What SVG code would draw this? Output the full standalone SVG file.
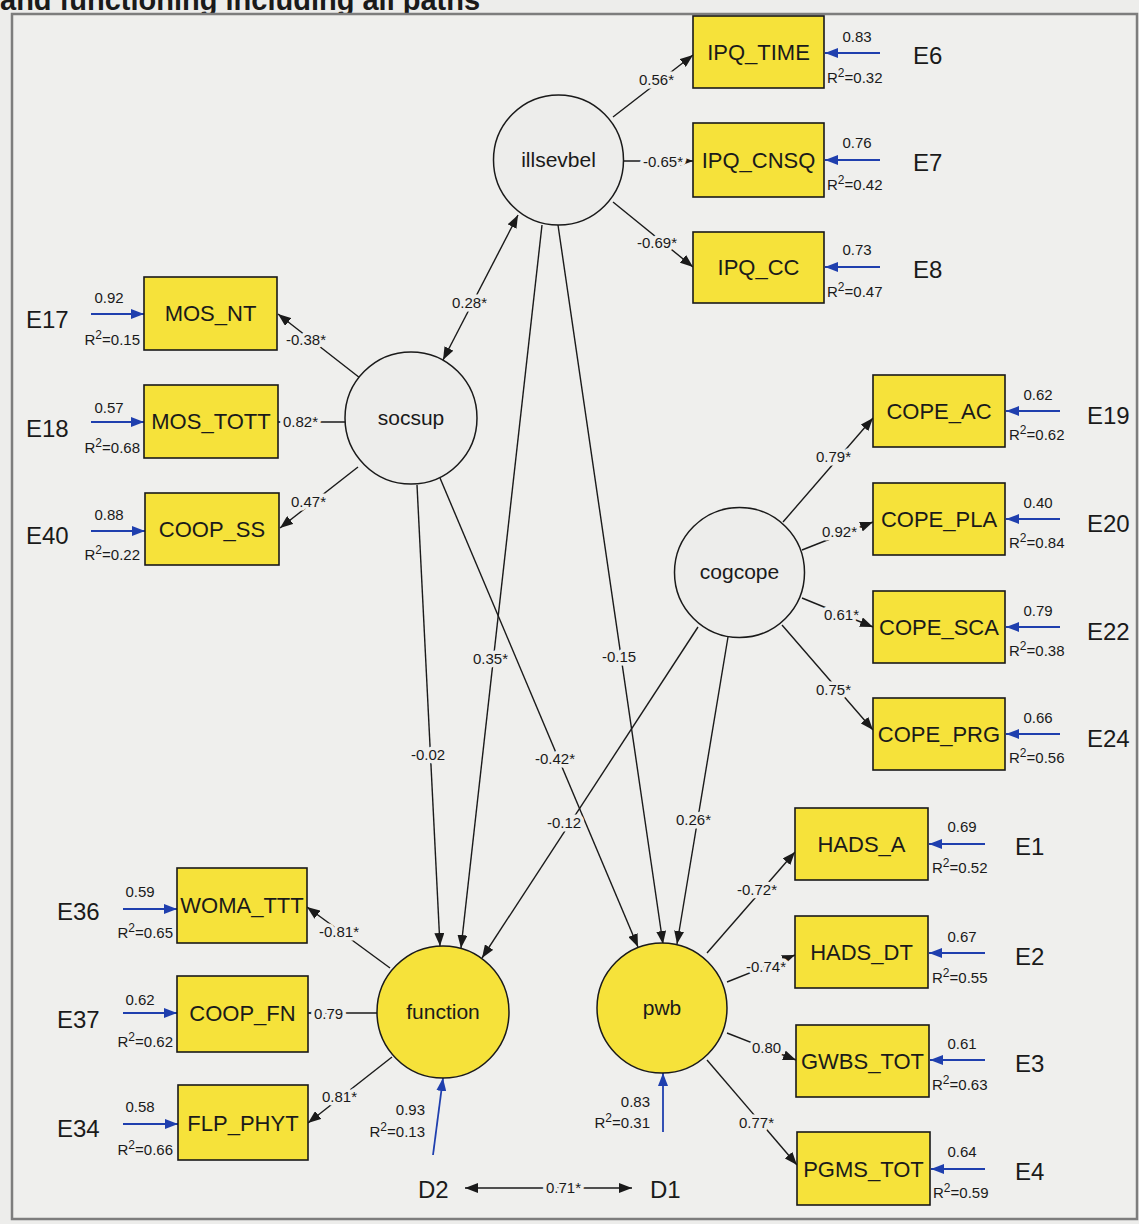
<svg xmlns="http://www.w3.org/2000/svg" width="1139" height="1224" viewBox="0 0 1139 1224">
  <defs>
    <marker id="ah" markerUnits="userSpaceOnUse" markerWidth="14" markerHeight="10" refX="13" refY="5" orient="auto-start-reverse">
      <path d="M0,0 L13,5 L0,10 z" fill="#1a1a1a"/>
    </marker>
    <marker id="ahb" markerUnits="userSpaceOnUse" markerWidth="14" markerHeight="10" refX="13" refY="5" orient="auto">
      <path d="M0,0 L13,5 L0,10 z" fill="#1f3fae"/>
    </marker>
    <style>
      text { font-family: "Liberation Sans", Arial, sans-serif; fill: #1a1a1a; }
      .title { font-size: 29px; font-weight: bold; }
      .box { fill: #f6e23a; stroke: #1a1a1a; stroke-width: 1.6; }
      .lat { fill: #ededeb; stroke: #1a1a1a; stroke-width: 1.5; }
      .latY { fill: #f6e23a; stroke: #1a1a1a; stroke-width: 1.5; }
      .bl { font-size: 22px; text-anchor: middle; }
      .cl { font-size: 21px; text-anchor: middle; }
      .el { font-size: 24px; }
      .path { stroke: #1a1a1a; stroke-width: 1.4; fill: none; marker-end: url(#ah); }
      .dbl { marker-start: url(#ah); }
      .err { stroke: #1f3fae; stroke-width: 1.8; fill: none; marker-end: url(#ahb); }
      .pl { font-size: 15px; stroke: #efefed; stroke-width: 7px; paint-order: stroke; stroke-linejoin: round; }
      .ev { font-size: 15px; text-anchor: middle; }
      .r2 { font-size: 15px; }
      .end { text-anchor: end; }
    </style>
  </defs>

  <!-- page background and frame -->
  <rect x="0" y="0" width="1139" height="1224" fill="#ededeb"/>
  <text class="title" x="0" y="10">and functioning including all paths</text>
  <rect x="12" y="14" width="1125" height="1205" fill="#efefed" stroke="#7d7d7d" stroke-width="2.5"/>

  <!-- structural and measurement paths -->
  <g id="connectors">
    <line class="path" x1="613" y1="117" x2="693" y2="55"/>
    <line class="path" x1="624" y1="161" x2="693" y2="161"/>
    <line class="path" x1="613" y1="202" x2="693" y2="267"/>
    <line class="path dbl" x1="518" y1="215" x2="443" y2="360"/>
    <line class="path" x1="360" y1="378" x2="278" y2="314"/>
    <line class="path" x1="345" y1="422" x2="278" y2="422"/>
    <line class="path" x1="358" y1="467" x2="280" y2="528"/>
    <line class="path" x1="417" y1="485" x2="440" y2="946"/>
    <line class="path" x1="440" y1="478" x2="638" y2="947"/>
    <line class="path" x1="542" y1="225" x2="461" y2="948"/>
    <line class="path" x1="558" y1="225" x2="663" y2="944"/>
    <line class="path" x1="698" y1="627" x2="482" y2="958"/>
    <line class="path" x1="728" y1="637" x2="677" y2="944"/>
    <line class="path" x1="783" y1="522" x2="873" y2="418"/>
    <line class="path" x1="802" y1="550" x2="873" y2="522"/>
    <line class="path" x1="802" y1="598" x2="873" y2="627"/>
    <line class="path" x1="782" y1="625" x2="873" y2="730"/>
    <line class="path" x1="390" y1="968" x2="307" y2="907"/>
    <line class="path" x1="377" y1="1013" x2="308" y2="1013"/>
    <line class="path" x1="392" y1="1057" x2="308" y2="1123"/>
    <line class="path" x1="707" y1="953" x2="795" y2="852"/>
    <line class="path" x1="727" y1="982" x2="795" y2="955"/>
    <line class="path" x1="727" y1="1033" x2="796" y2="1060"/>
    <line class="path" x1="707" y1="1060" x2="797" y2="1165"/>
    <line class="path dbl" x1="465" y1="1188" x2="632" y2="1188"/>

    <!-- disturbance terms -->
    <line class="err" x1="433" y1="1155" x2="443" y2="1078"/>
    <line class="err" x1="663" y1="1132" x2="663" y2="1073"/>

    <!-- measurement error terms -->
    <line class="err" x1="880" y1="53" x2="825" y2="53"/>
    <line class="err" x1="880" y1="160" x2="825" y2="160"/>
    <line class="err" x1="880" y1="267" x2="825" y2="267"/>
    <line class="err" x1="91" y1="314" x2="144" y2="314"/>
    <line class="err" x1="91" y1="422" x2="144" y2="422"/>
    <line class="err" x1="91" y1="531" x2="145" y2="531"/>
    <line class="err" x1="1060" y1="411" x2="1006" y2="411"/>
    <line class="err" x1="1060" y1="519" x2="1006" y2="519"/>
    <line class="err" x1="1060" y1="627" x2="1006" y2="627"/>
    <line class="err" x1="1060" y1="734" x2="1006" y2="734"/>
    <line class="err" x1="123" y1="909" x2="177" y2="909"/>
    <line class="err" x1="123" y1="1013" x2="177" y2="1013"/>
    <line class="err" x1="123" y1="1124" x2="178" y2="1124"/>
    <line class="err" x1="985" y1="844" x2="929" y2="844"/>
    <line class="err" x1="985" y1="953" x2="929" y2="953"/>
    <line class="err" x1="985" y1="1060" x2="930" y2="1060"/>
    <line class="err" x1="985" y1="1169" x2="931" y2="1169"/>

    <!-- path coefficients -->
    <text class="pl" x="639" y="85">0.56*</text>
    <text class="pl" x="643" y="167">-0.65*</text>
    <text class="pl" x="637" y="248">-0.69*</text>
    <text class="pl" x="452" y="308">0.28*</text>
    <text class="pl" x="286" y="345">-0.38*</text>
    <text class="pl" x="283" y="427">0.82*</text>
    <text class="pl" x="291" y="507">0.47*</text>
    <text class="pl" x="411" y="760">-0.02</text>
    <text class="pl" x="535" y="764">-0.42*</text>
    <text class="pl" x="473" y="664">0.35*</text>
    <text class="pl" x="602" y="662">-0.15</text>
    <text class="pl" x="547" y="828">-0.12</text>
    <text class="pl" x="676" y="825">0.26*</text>
    <text class="pl" x="816" y="462">0.79*</text>
    <text class="pl" x="822" y="537">0.92*</text>
    <text class="pl" x="824" y="620">0.61*</text>
    <text class="pl" x="816" y="695">0.75*</text>
    <text class="pl" x="319" y="937">-0.81*</text>
    <text class="pl" x="314" y="1019">0.79</text>
    <text class="pl" x="322" y="1102">0.81*</text>
    <text class="pl" x="737" y="895">-0.72*</text>
    <text class="pl" x="746" y="972">-0.74*</text>
    <text class="pl" x="752" y="1053">0.80</text>
    <text class="pl" x="739" y="1128">0.77*</text>
    <text class="pl" x="546" y="1193">0.71*</text>
  </g>

  <!-- latent variables -->
  <g id="illsevbel">
    <circle class="lat" cx="558.5" cy="160" r="65"/>
    <text class="cl" x="558.5" y="167">illsevbel</text>
  </g>
  <g id="socsup">
    <circle class="lat" cx="411" cy="418" r="66"/>
    <text class="cl" x="411" y="425">socsup</text>
  </g>
  <g id="cogcope">
    <circle class="lat" cx="739.5" cy="572.5" r="65"/>
    <text class="cl" x="739.5" y="579">cogcope</text>
  </g>
  <g id="function">
    <circle class="latY" cx="443" cy="1012" r="66"/>
    <text class="cl" x="443" y="1019">function</text>
  </g>
  <g id="pwb">
    <circle class="latY" cx="662" cy="1008" r="65"/>
    <text class="cl" x="662" y="1015">pwb</text>
  </g>

  <!-- observed variables: illness beliefs -->
  <g id="IPQ_TIME">
    <rect class="box" x="693" y="16" width="131" height="72"/>
    <text class="bl" x="758.5" y="60">IPQ_TIME</text>
    <text class="ev" x="857" y="42">0.83</text>
    <text class="r2" x="827" y="83">R<tspan dy="-6" font-size="12">2</tspan><tspan dy="6">=0.32</tspan></text>
  </g>
  <g id="IPQ_CNSQ">
    <rect class="box" x="693" y="123" width="131" height="74"/>
    <text class="bl" x="758.5" y="168">IPQ_CNSQ</text>
    <text class="ev" x="857" y="148">0.76</text>
    <text class="r2" x="827" y="190">R<tspan dy="-6" font-size="12">2</tspan><tspan dy="6">=0.42</tspan></text>
  </g>
  <g id="IPQ_CC">
    <rect class="box" x="693" y="232" width="131" height="71"/>
    <text class="bl" x="758.5" y="275">IPQ_CC</text>
    <text class="ev" x="857" y="255">0.73</text>
    <text class="r2" x="827" y="297">R<tspan dy="-6" font-size="12">2</tspan><tspan dy="6">=0.47</tspan></text>
  </g>

  <!-- observed variables: social support -->
  <g id="MOS_NT">
    <rect class="box" x="144" y="277" width="133" height="73"/>
    <text class="bl" x="210.5" y="321">MOS_NT</text>
    <text class="ev" x="109" y="303">0.92</text>
    <text class="r2 end" x="140" y="345">R<tspan dy="-6" font-size="12">2</tspan><tspan dy="6">=0.15</tspan></text>
  </g>
  <g id="MOS_TOTT">
    <rect class="box" x="144" y="385" width="134" height="73"/>
    <text class="bl" x="211" y="429">MOS_TOTT</text>
    <text class="ev" x="109" y="413">0.57</text>
    <text class="r2 end" x="140" y="453">R<tspan dy="-6" font-size="12">2</tspan><tspan dy="6">=0.68</tspan></text>
  </g>
  <g id="COOP_SS">
    <rect class="box" x="145" y="493" width="134" height="72"/>
    <text class="bl" x="212" y="537">COOP_SS</text>
    <text class="ev" x="109" y="520">0.88</text>
    <text class="r2 end" x="140" y="560">R<tspan dy="-6" font-size="12">2</tspan><tspan dy="6">=0.22</tspan></text>
  </g>

  <!-- observed variables: coping -->
  <g id="COPE_AC">
    <rect class="box" x="873" y="375" width="132" height="72"/>
    <text class="bl" x="939" y="419">COPE_AC</text>
    <text class="ev" x="1038" y="400">0.62</text>
    <text class="r2" x="1009" y="440">R<tspan dy="-6" font-size="12">2</tspan><tspan dy="6">=0.62</tspan></text>
  </g>
  <g id="COPE_PLA">
    <rect class="box" x="873" y="483" width="132" height="72"/>
    <text class="bl" x="939" y="527">COPE_PLA</text>
    <text class="ev" x="1038" y="508">0.40</text>
    <text class="r2" x="1009" y="548">R<tspan dy="-6" font-size="12">2</tspan><tspan dy="6">=0.84</tspan></text>
  </g>
  <g id="COPE_SCA">
    <rect class="box" x="873" y="591" width="132" height="72"/>
    <text class="bl" x="939" y="635">COPE_SCA</text>
    <text class="ev" x="1038" y="616">0.79</text>
    <text class="r2" x="1009" y="656">R<tspan dy="-6" font-size="12">2</tspan><tspan dy="6">=0.38</tspan></text>
  </g>
  <g id="COPE_PRG">
    <rect class="box" x="873" y="698" width="132" height="72"/>
    <text class="bl" x="939" y="742">COPE_PRG</text>
    <text class="ev" x="1038" y="723">0.66</text>
    <text class="r2" x="1009" y="763">R<tspan dy="-6" font-size="12">2</tspan><tspan dy="6">=0.56</tspan></text>
  </g>

  <!-- observed variables: functioning -->
  <g id="WOMA_TTT">
    <rect class="box" x="177" y="868" width="130" height="75"/>
    <text class="bl" x="242" y="913">WOMA_TTT</text>
    <text class="ev" x="140" y="897">0.59</text>
    <text class="r2 end" x="173" y="938">R<tspan dy="-6" font-size="12">2</tspan><tspan dy="6">=0.65</tspan></text>
  </g>
  <g id="COOP_FN">
    <rect class="box" x="177" y="976" width="131" height="76"/>
    <text class="bl" x="242.5" y="1021">COOP_FN</text>
    <text class="ev" x="140" y="1005">0.62</text>
    <text class="r2 end" x="173" y="1047">R<tspan dy="-6" font-size="12">2</tspan><tspan dy="6">=0.62</tspan></text>
  </g>
  <g id="FLP_PHYT">
    <rect class="box" x="178" y="1085" width="130" height="75"/>
    <text class="bl" x="243" y="1131">FLP_PHYT</text>
    <text class="ev" x="140" y="1112">0.58</text>
    <text class="r2 end" x="173" y="1155">R<tspan dy="-6" font-size="12">2</tspan><tspan dy="6">=0.66</tspan></text>
  </g>

  <!-- observed variables: psychological well-being -->
  <g id="HADS_A">
    <rect class="box" x="795" y="808" width="133" height="72"/>
    <text class="bl" x="861.5" y="852">HADS_A</text>
    <text class="ev" x="962" y="832">0.69</text>
    <text class="r2" x="932" y="873">R<tspan dy="-6" font-size="12">2</tspan><tspan dy="6">=0.52</tspan></text>
  </g>
  <g id="HADS_DT">
    <rect class="box" x="795" y="916" width="133" height="72"/>
    <text class="bl" x="861.5" y="960">HADS_DT</text>
    <text class="ev" x="962" y="942">0.67</text>
    <text class="r2" x="932" y="983">R<tspan dy="-6" font-size="12">2</tspan><tspan dy="6">=0.55</tspan></text>
  </g>
  <g id="GWBS_TOT">
    <rect class="box" x="796" y="1025" width="133" height="72"/>
    <text class="bl" x="862.5" y="1069">GWBS_TOT</text>
    <text class="ev" x="962" y="1049">0.61</text>
    <text class="r2" x="932" y="1090">R<tspan dy="-6" font-size="12">2</tspan><tspan dy="6">=0.63</tspan></text>
  </g>
  <g id="PGMS_TOT">
    <rect class="box" x="797" y="1132" width="133" height="73"/>
    <text class="bl" x="863.5" y="1177">PGMS_TOT</text>
    <text class="ev" x="962" y="1157">0.64</text>
    <text class="r2" x="933" y="1198">R<tspan dy="-6" font-size="12">2</tspan><tspan dy="6">=0.59</tspan></text>
  </g>

  <!-- error and disturbance term names -->
  <g id="E6"><text class="el" x="913" y="64">E6</text></g>
  <g id="E7"><text class="el" x="913" y="171">E7</text></g>
  <g id="E8"><text class="el" x="913" y="278">E8</text></g>
  <g id="E17"><text class="el" x="26" y="328">E17</text></g>
  <g id="E18"><text class="el" x="26" y="437">E18</text></g>
  <g id="E40"><text class="el" x="26" y="544">E40</text></g>
  <g id="E19"><text class="el" x="1087" y="424">E19</text></g>
  <g id="E20"><text class="el" x="1087" y="532">E20</text></g>
  <g id="E22"><text class="el" x="1087" y="640">E22</text></g>
  <g id="E24"><text class="el" x="1087" y="747">E24</text></g>
  <g id="E36"><text class="el" x="57" y="920">E36</text></g>
  <g id="E37"><text class="el" x="57" y="1028">E37</text></g>
  <g id="E34"><text class="el" x="57" y="1137">E34</text></g>
  <g id="E1"><text class="el" x="1015" y="855">E1</text></g>
  <g id="E2"><text class="el" x="1015" y="965">E2</text></g>
  <g id="E3"><text class="el" x="1015" y="1072">E3</text></g>
  <g id="E4"><text class="el" x="1015" y="1180">E4</text></g>
  <g id="D2">
    <text class="el" x="418" y="1198" font-size="25">D2</text>
    <text class="ev end" x="425" y="1115">0.93</text>
    <text class="r2 end" x="425" y="1137">R<tspan dy="-6" font-size="12">2</tspan><tspan dy="6">=0.13</tspan></text>
  </g>
  <g id="D1">
    <text class="el" x="650" y="1198" font-size="25">D1</text>
    <text class="ev end" x="650" y="1107">0.83</text>
    <text class="r2 end" x="650" y="1128">R<tspan dy="-6" font-size="12">2</tspan><tspan dy="6">=0.31</tspan></text>
  </g>
</svg>
